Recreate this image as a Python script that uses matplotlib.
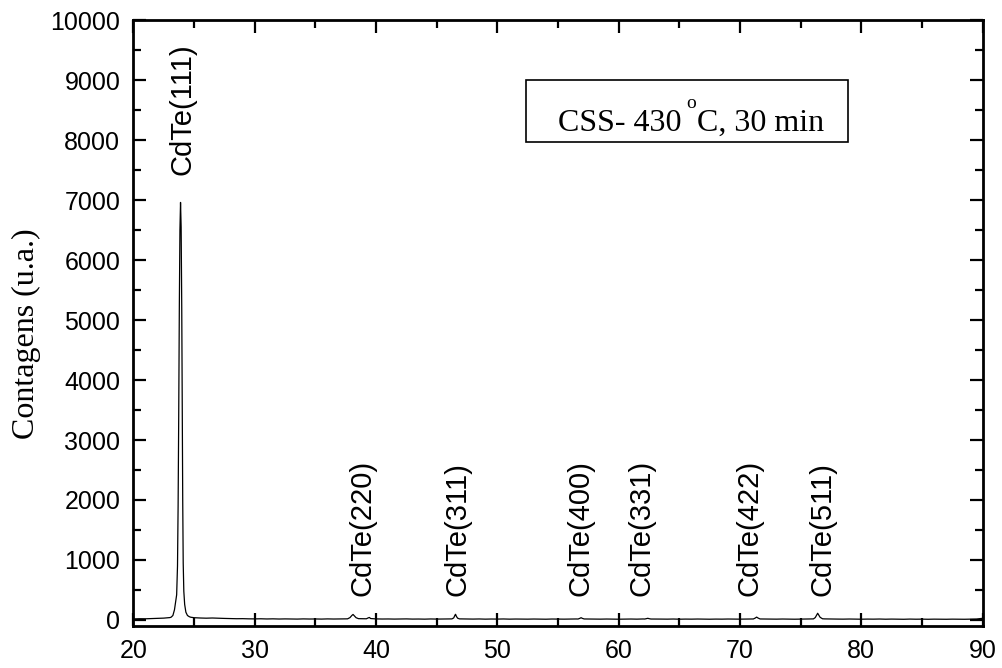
import numpy as np
import matplotlib
matplotlib.use("Agg")
import matplotlib.pyplot as plt
from matplotlib.patches import Rectangle
from matplotlib.ticker import MultipleLocator

plt.rcParams["font.family"] = ["Liberation Sans", "DejaVu Sans"]

# Background counts on the 0.5 deg scan grid, starting at 2theta = 20
scan_start = 20.0
scan_step = 0.5
background_counts = [
    18, 21, 20, 24, 27, 31, 40, 290, 3000, 60,      # 20.0 - 24.5
    38, 33, 30, 33, 29, 26, 24, 21, 22, 19,         # 25.0 - 29.5
    18, 20, 17, 19, 16, 18, 17, 15, 18, 16,         # 30.0 - 34.5
    17, 15, 18, 16, 17, 19, 80, 30, 21, 30,         # 35.0 - 39.5
    18, 16, 17, 15, 16, 18, 15, 16, 14, 17,         # 40.0 - 44.5
    15, 16, 17, 80, 18, 16, 15, 17, 14, 16,         # 45.0 - 49.5
    15, 17, 14, 16, 15, 14, 16, 15, 13, 16,         # 50.0 - 54.5
    15, 14, 16, 17, 30, 16, 15, 14, 16, 15,         # 55.0 - 59.5
    13, 15, 16, 14, 17, 22, 16, 15, 14, 16,         # 60.0 - 64.5
    13, 15, 14, 16, 15, 13, 15, 14, 16, 15,         # 65.0 - 69.5
    14, 16, 17, 30, 16, 15, 14, 16, 15, 13,         # 70.0 - 74.5
    15, 16, 18, 70, 18, 16, 15, 14, 16, 15,         # 75.0 - 79.5
    13, 15, 14, 16, 13, 15, 14, 12, 15, 13,         # 80.0 - 84.5
    14, 12, 14, 13, 12, 14, 13, 12, 14, 16,         # 85.0 - 89.5
    28,                                             # 90.0
]

# Reflection profiles (2theta in degrees, counts)
peak_111_tth = [23.10, 23.25, 23.38, 23.47, 23.56, 23.63, 23.68, 23.73, 23.78,
                23.83, 23.88, 23.93, 23.98, 24.02, 24.06, 24.10, 24.15, 24.22,
                24.32, 24.45, 24.60, 24.72]
peak_111_cts = [46, 75, 170, 300, 420, 900, 1900, 3400, 5200,
                6500, 6960, 6550, 5200, 3500, 2000, 950, 480, 260,
                130, 75, 55, 46]
peak_220_tth = [37.65, 37.85, 38.00, 38.10, 38.20, 38.35, 38.55]
peak_220_cts = [19, 40, 75, 92, 70, 38, 22]
peak_394_tth = [39.20, 39.35, 39.45, 39.55]
peak_394_cts = [20, 35, 42, 24]
peak_311_tth = [46.25, 46.40, 46.50, 46.55, 46.62, 46.72, 46.88]
peak_311_cts = [18, 35, 80, 95, 60, 30, 18]
peak_400_tth = [56.65, 56.80, 56.90, 57.00, 57.15]
peak_400_cts = [16, 28, 38, 27, 17]
peak_331_tth = [62.15, 62.30, 62.40, 62.50, 62.65]
peak_331_cts = [16, 24, 28, 22, 16]
peak_422_tth = [71.10, 71.25, 71.37, 71.48, 71.65]
peak_422_cts = [17, 32, 48, 33, 17]
peak_511_tth = [76.05, 76.20, 76.32, 76.40, 76.48, 76.60, 76.80]
peak_511_cts = [18, 40, 85, 112, 85, 45, 20]

# Reflection labels
hkl_labels = ["CdTe(111)", "CdTe(220)", "CdTe(311)", "CdTe(400)",
              "CdTe(331)", "CdTe(422)", "CdTe(511)"]
label_tth = [24.08, 38.92, 46.75, 56.89, 61.84, 70.82, 76.76]
label_cts = [7420, 400, 400, 400, 400, 400, 400]

x_ticks = [20, 30, 40, 50, 60, 70, 80, 90]
y_ticks = [0, 1000, 2000, 3000, 4000, 5000, 6000, 7000, 8000, 9000, 10000]

# Assemble the full scan: background grid with the peak profiles spliced in
peaks = [(peak_111_tth, peak_111_cts), (peak_220_tth, peak_220_cts),
         (peak_394_tth, peak_394_cts), (peak_311_tth, peak_311_cts),
         (peak_400_tth, peak_400_cts), (peak_331_tth, peak_331_cts),
         (peak_422_tth, peak_422_cts), (peak_511_tth, peak_511_cts)]
bg_tth = scan_start + scan_step * np.arange(len(background_counts))
bg_cts = np.asarray(background_counts, dtype=float)
keep = np.ones(len(bg_tth), dtype=bool)
for t, _ in peaks:
    keep &= ~((bg_tth >= t[0]) & (bg_tth <= t[-1]))
tth = np.concatenate([bg_tth[keep]] + [np.asarray(t) for t, _ in peaks])
cts = np.concatenate([bg_cts[keep]] + [np.asarray(c, float) for _, c in peaks])
order = np.argsort(tth)
tth, cts = tth[order], cts[order]

fig = plt.figure(figsize=(10.02, 6.68), dpi=100)
ax = fig.add_axes([0.1332, 0.0629, 0.8475, 0.9071])
ax.plot(tth, cts, color="black", lw=0.9)

ax.set_xlim(20, 90)
ax.set_ylim(-100, 10000)
ax.set_xticks(x_ticks)
ax.set_yticks(y_ticks)
ax.xaxis.set_minor_locator(MultipleLocator(5))
ax.yaxis.set_minor_locator(MultipleLocator(500))
ax.tick_params(which="both", direction="in", top=True, right=True,
               width=1.6, labelsize=18, pad=9.5)
ax.tick_params(which="major", length=9.5)
ax.tick_params(which="minor", length=5.5)
for sp in ax.spines.values():
    sp.set_linewidth(2.0)

for lab, x, y in zip(hkl_labels, label_tth, label_cts):
    ax.text(x, y, lab, rotation=90, ha="center", va="bottom", fontsize=21)

# Sample condition box: "CSS- 430 °C, 30 min" with a raised small "o"
serif = "Liberation Serif"
ax.add_patch(Rectangle((0.462, 0.799), 0.379, 0.102, transform=ax.transAxes,
                       fill=False, lw=1.2, color="black"))
t_head = ax.text(0.5, 0.817, "CSS- 430", transform=ax.transAxes,
                 fontsize=23, family=serif, va="baseline", ha="left")
t_deg = ax.annotate("o", xy=(1, 1), xycoords=t_head, xytext=(3.5, -2.0),
                    textcoords="offset points", fontsize=14, family=serif,
                    ha="left", va="bottom")
ax.annotate("C, 30 min", xy=(1, 0), xycoords=(t_deg, t_head), xytext=(0.5, 0),
            textcoords="offset points", fontsize=23, family=serif,
            ha="left", va="bottom")

fig.text(0.026, 0.5, "Contagens (u.a.)", rotation=90, ha="center", va="center",
         fontsize=23, family=serif)

fig.savefig("out.png", dpi=100)
